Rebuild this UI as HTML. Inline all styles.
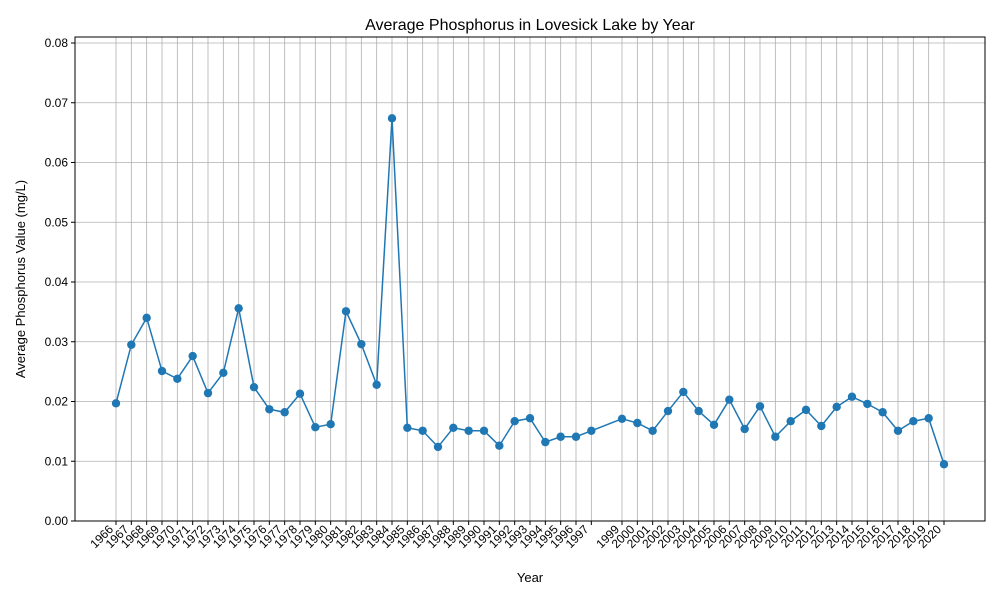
<!DOCTYPE html>
<html><head><meta charset="utf-8"><style>
body{margin:0;background:#fff;font-family:"Liberation Sans","DejaVu Sans",sans-serif}
</style></head><body>
<svg id="chart" width="1000" height="600" xmlns="http://www.w3.org/2000/svg" font-family="Liberation Sans, DejaVu Sans, sans-serif">
<rect width="1000" height="600" fill="#fff"/>
<text x="530" y="30" text-anchor="middle" font-size="16">Average Phosphorus in Lovesick Lake by Year</text>
<text x="530" y="582" text-anchor="middle" font-size="13">Year</text>
<text transform="translate(25,279) rotate(-90)" text-anchor="middle" font-size="13">Average Phosphorus Value (mg/L)</text>
<g id="grid"></g><g id="ticks"></g><g id="marks"></g>
<rect x="75" y="37" width="910" height="484" fill="none" stroke="#000" stroke-width="1"/>
</svg>
<script>
const years=[1966,1967,1968,1969,1970,1971,1972,1973,1974,1975,1976,1977,1978,1979,1980,1981,1982,1983,1984,1985,1986,1987,1988,1989,1990,1991,1992,1993,1994,1995,1996,1997,1999,2000,2001,2002,2003,2004,2005,2006,2007,2008,2009,2010,2011,2012,2013,2014,2015,2016,2017,2018,2019,2020];
const values=[0.0197,0.0295,0.034,0.0251,0.0238,0.0276,0.0214,0.0248,0.0356,0.0224,0.0187,0.0182,0.0213,0.0157,0.0162,0.0351,0.0296,0.0228,0.0674,0.0156,0.0151,0.0124,0.0156,0.0151,0.0151,0.0126,0.0167,0.0172,0.0132,0.0141,0.0141,0.0151,0.0171,0.0164,0.0151,0.0184,0.0216,0.0184,0.0161,0.0203,0.0154,0.0192,0.0141,0.0167,0.0186,0.0159,0.0191,0.0208,0.0196,0.0182,0.0151,0.0167,0.0172,0.0095];
const yTicks=[0,0.01,0.02,0.03,0.04,0.05,0.06,0.07,0.08];
const NS="http://www.w3.org/2000/svg";
const X=y=>116+(y-1966)*(944-116)/54;
const Y=v=>521-v*5975;
function mk(t,a,p){const e=document.createElementNS(NS,t);for(const k in a)e.setAttribute(k,a[k]);p.appendChild(e);return e;}
const grid=document.getElementById('grid'),ticks=document.getElementById('ticks'),marks=document.getElementById('marks');
yTicks.forEach(v=>{
 const l=mk('line',{x1:75,x2:985,y1:Y(v),y2:Y(v),stroke:'#b0b0b0','stroke-width':0.8},grid);
 
 
 mk('line',{x1:71,x2:75,y1:Y(v),y2:Y(v),stroke:'#000'},ticks);
 const t=mk('text',{x:68,y:Y(v)+4,'text-anchor':'end','font-size':12},ticks);t.textContent=v.toFixed(2);
 
 
});
years.forEach(yr=>{
 const x=X(yr);
 const l=mk('line',{x1:x,x2:x,y1:37,y2:521,stroke:'#b0b0b0','stroke-width':0.8},grid);
 
 
 mk('line',{x1:x,x2:x,y1:521,y2:525,stroke:'#000'},ticks);
 const t=mk('text',{transform:`translate(${x-2},${530}) rotate(-45)`,'text-anchor':'end','font-size':12},ticks);t.textContent=yr;
 
 
});
const pts=years.map((y,i)=>X(y)+','+Y(values[i])).join(' ');
const pl=mk('polyline',{points:pts,fill:'none',stroke:'#1f77b4','stroke-width':1.5},marks);


years.forEach((y,i)=>{
 const c=mk('circle',{cx:X(y),cy:Y(values[i]),r:4.2,fill:'#1f77b4'},marks);
 
 
});
</script>
</body></html>
